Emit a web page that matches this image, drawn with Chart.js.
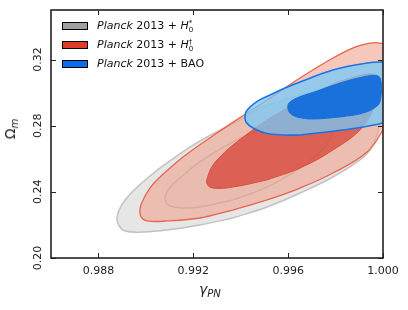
<!DOCTYPE html>
<html>
<head>
<meta charset="utf-8">
<script src="https://cdn.jsdelivr.net/npm/chart.js@4.4.0/dist/chart.umd.min.js"></script>
<style>
    body { margin: 0; background: #fff; }
    #wrap { position: relative; width: 408px; height: 310px; font-family: "DejaVu Sans", sans-serif; color: #111; }
    #wrap canvas { position: absolute; left: 0; top: 0; }
    .lg-box { position: absolute; left: 62px; width: 24px; height: 6px; border: 1px solid #000; }
    .lg-txt { position: absolute; left: 97px; font-size: 11px; line-height: 13px; white-space: nowrap; }
    .ss { display: inline-block; vertical-align: -3px; font-size: 7px; line-height: 7px; text-align: left; }
    .ss span { display: block; }
    #xTitle { position: absolute; left: 199px; top: 281px; font-size: 14px; color: #222; white-space: nowrap; }
    #xTitle sub { font-size: 10px; font-style: italic; vertical-align: -3px; }
    #yTitle { position: absolute; left: 11px; top: 129px; font-size: 14px; color: #222; white-space: nowrap;
              transform: translate(-50%, -50%) rotate(-90deg); }
    #yTitle sub { font-size: 10px; font-style: italic; vertical-align: -3px; }
</style>
</head>
<body>
<div id="wrap">
    <canvas id="contourChart" width="408" height="310"></canvas>

    <div class="lg-box" style="top:22px; background:#a0a0a0;"></div>
    <div class="lg-txt" style="top:19px;"><i>Planck</i> 2013 + <i>H</i><span class="ss"><span>*</span><span>0</span></span></div>
    <div class="lg-box" style="top:41px; background:#e03a2a;"></div>
    <div class="lg-txt" style="top:38px;"><i>Planck</i> 2013 + <i>H</i><span class="ss"><span>†</span><span>0</span></span></div>
    <div class="lg-box" style="top:60px; background:#0a6ee6;"></div>
    <div class="lg-txt" style="top:57px;"><i>Planck</i> 2013 + BAO</div>

    <div id="xTitle"><i>γ</i><sub>PN</sub></div>
    <div id="yTitle">Ω<sub>m</sub></div>
</div>

<script>
// tick marks
var xTicks = [0.988, 0.992, 0.996, 1.000];
var yTicks = [0.20, 0.24, 0.28, 0.32];

// Planck 2013 + H0* (grey), 2 sigma and 1 sigma contours
var grayOuterX = [0.99367, 0.99228, 0.99089, 0.98988, 0.98912, 0.98887, 0.98878, 0.98891, 0.98916, 0.98946, 0.99017, 0.99089, 0.99228, 0.99397, 0.99494, 0.99637, 0.99777, 0.99882, 0.99945, 0.99979, 0.99987, 0.99975, 0.99945, 0.99903, 0.99789, 0.99650, 0.99511];
var grayOuterY = [0.2242, 0.2200, 0.2169, 0.2157, 0.2163, 0.2194, 0.2242, 0.2302, 0.2357, 0.2405, 0.2496, 0.2575, 0.2708, 0.2835, 0.2913, 0.2980, 0.3022, 0.3028, 0.2998, 0.2944, 0.2853, 0.2744, 0.2653, 0.2593, 0.2490, 0.2393, 0.2308];
var grayInnerX = [0.99367, 0.99228, 0.99165, 0.99102, 0.99081, 0.99093, 0.99144, 0.99228, 0.99367, 0.99511, 0.99650, 0.99726, 0.99768, 0.99785, 0.99777, 0.99734, 0.99650, 0.99511];
var grayInnerY = [0.2351, 0.2308, 0.2302, 0.2315, 0.2351, 0.2411, 0.2484, 0.2581, 0.2702, 0.2792, 0.2835, 0.2835, 0.2810, 0.2762, 0.2714, 0.2641, 0.2544, 0.2429];

// Planck 2013 + H0 dagger (red)
var redOuterX = [0.99367, 0.99228, 0.99089, 0.99005, 0.98980, 0.98975, 0.98984, 0.99017, 0.99060, 0.99157, 0.99300, 0.99427, 0.99511, 0.99650, 0.99789, 0.99882, 0.99945, 0.99987, 1.00030, 1.00059, 1.00051, 1.00021, 1.00000, 0.99933, 0.99789, 0.99650, 0.99511];
var redOuterY = [0.2290, 0.2242, 0.2224, 0.2224, 0.2248, 0.2290, 0.2339, 0.2423, 0.2490, 0.2611, 0.2756, 0.2877, 0.2956, 0.3089, 0.3210, 0.3276, 0.3300, 0.3300, 0.3276, 0.3167, 0.2986, 0.2835, 0.2774, 0.2641, 0.2514, 0.2423, 0.2351];
var redInnerX = [0.99511, 0.99367, 0.99283, 0.99258, 0.99262, 0.99283, 0.99321, 0.99367, 0.99439, 0.99511, 0.99650, 0.99789, 0.99882, 0.99945, 0.99979, 0.99987, 0.99966, 0.99911, 0.99789, 0.99650];
var redInnerY = [0.2472, 0.2429, 0.2423, 0.2448, 0.2496, 0.2562, 0.2623, 0.2683, 0.2762, 0.2835, 0.2950, 0.3052, 0.3095, 0.3113, 0.3101, 0.3040, 0.2925, 0.2786, 0.2653, 0.2544];

// Planck 2013 + BAO (blue)
var blueOuterX = [0.99650, 0.99578, 0.99502, 0.99452, 0.99422, 0.99418, 0.99422, 0.99439, 0.99473, 0.99524, 0.99587, 0.99650, 0.99789, 0.99933, 1.00000, 1.00051, 1.00063, 1.00051, 1.00000, 0.99861, 0.99722];
var blueOuterY = [0.2744, 0.2744, 0.2756, 0.2786, 0.2823, 0.2853, 0.2883, 0.2913, 0.2950, 0.2986, 0.3028, 0.3064, 0.3137, 0.3179, 0.3185, 0.3173, 0.2986, 0.2847, 0.2817, 0.2780, 0.2756];
var blueInnerX = [0.99819, 0.99705, 0.99637, 0.99608, 0.99599, 0.99604, 0.99637, 0.99722, 0.99819, 0.99916, 0.99979, 0.99992, 0.99992, 0.99979, 0.99916];
var blueInnerY = [0.2853, 0.2841, 0.2853, 0.2877, 0.2907, 0.2938, 0.2968, 0.3010, 0.3058, 0.3095, 0.3101, 0.3064, 0.2986, 0.2925, 0.2877];

// closed contour -> line dataset filled inside
function makeContour(label, xs, ys, fillColor, lineColor, lineWidth, order) {
    var pts = [];
    for (var i = 0; i < xs.length; i++) {
        pts.push({ x: xs[i], y: ys[i] });
    }
    pts.push({ x: xs[0], y: ys[0] });
    return {
        label: label,
        data: pts,
        fill: 'shape',
        backgroundColor: fillColor,
        borderColor: lineColor,
        borderWidth: lineWidth,
        pointRadius: 0,
        tension: 0.4,
        order: order
    };
}

// frame + inward ticks on all four sides
var frameTicks = {
    id: 'frameTicks',
    afterDatasetsDraw: function (chart) {
        var ctx = chart.ctx;
        var a = chart.chartArea;
        var sx = chart.scales.x;
        var sy = chart.scales.y;
        ctx.save();
        ctx.strokeStyle = '#222';
        ctx.lineWidth = 1;
        ctx.beginPath();
        xTicks.forEach(function (v) {
            var px = Math.round(sx.getPixelForValue(v)) + 0.5;
            ctx.moveTo(px, a.bottom); ctx.lineTo(px, a.bottom - 5);
            ctx.moveTo(px, a.top); ctx.lineTo(px, a.top + 5);
        });
        yTicks.forEach(function (v) {
            var py = Math.round(sy.getPixelForValue(v)) + 0.5;
            ctx.moveTo(a.left, py); ctx.lineTo(a.left + 5, py);
            ctx.moveTo(a.right, py); ctx.lineTo(a.right - 5, py);
        });
        ctx.stroke();
        ctx.lineWidth = 1.6;
        ctx.strokeRect(a.left, a.top, a.right - a.left, a.bottom - a.top);
        ctx.restore();
    }
};

var ctx__ct = document.getElementById('contourChart');

var contourChart = new Chart(ctx__ct, {
    type: 'line',
    data: {
        datasets: [
            makeContour('Planck 2013 + H0* (2σ)', grayOuterX, grayOuterY, '#e6e6e6', '#c2c2c2', 1.5, 6),
            makeContour('Planck 2013 + H0* (1σ)', grayInnerX, grayInnerY, '#e0e0e0', '#b8b8b8', 1.5, 5),
            makeContour('Planck 2013 + H0† (2σ)', redOuterX, redOuterY, 'rgba(240,163,142,0.6)', '#e8644f', 1.3, 4),
            makeContour('Planck 2013 + H0† (1σ)', redInnerX, redInnerY, 'rgba(213,59,46,0.7)', 'rgba(215,70,55,0.85)', 1, 3),
            makeContour('Planck 2013 + BAO (2σ)', blueOuterX, blueOuterY, 'rgba(117,201,250,0.75)', '#1c74e4', 1.6, 2),
            makeContour('Planck 2013 + BAO (1σ)', blueInnerX, blueInnerY, 'rgba(22,110,220,0.96)', 'rgba(22,110,220,0.96)', 1, 1)
        ]
    },
    options: {
        responsive: false,
        animation: false,
        layout: { padding: { left: 0, right: 25, top: 10, bottom: 0 } },
        plugins: {
            legend: { display: false },
            tooltip: { enabled: false }
        },
        scales: {
            x: {
                type: 'linear',
                min: 0.986,
                max: 1.000,
                grid: { display: false, drawTicks: false },
                border: { display: false },
                afterBuildTicks: function (scale) {
                    scale.ticks = xTicks.map(function (v) { return { value: v }; });
                },
                afterFit: function (scale) { scale.height = 52; },
                ticks: {
                    autoSkip: false,
                    maxRotation: 0,
                    padding: 7,
                    color: '#222',
                    font: { family: 'DejaVu Sans', size: 11 },
                    callback: function (v) { return Number(v).toFixed(3); }
                }
            },
            y: {
                type: 'linear',
                min: 0.20,
                max: 0.35,
                grid: { display: false, drawTicks: false },
                border: { display: false },
                afterBuildTicks: function (scale) {
                    scale.ticks = yTicks.map(function (v) { return { value: v }; });
                },
                afterFit: function (scale) { scale.width = 51; },
                ticks: {
                    autoSkip: false,
                    minRotation: 90,
                    maxRotation: 90,
                    crossAlign: 'center',
                    padding: 1,
                    color: '#222',
                    font: { family: 'DejaVu Sans', size: 11 },
                    callback: function (v) { return Number(v).toFixed(2); }
                }
            }
        }
    },
    plugins: [frameTicks]
});
</script>
</body>
</html>
